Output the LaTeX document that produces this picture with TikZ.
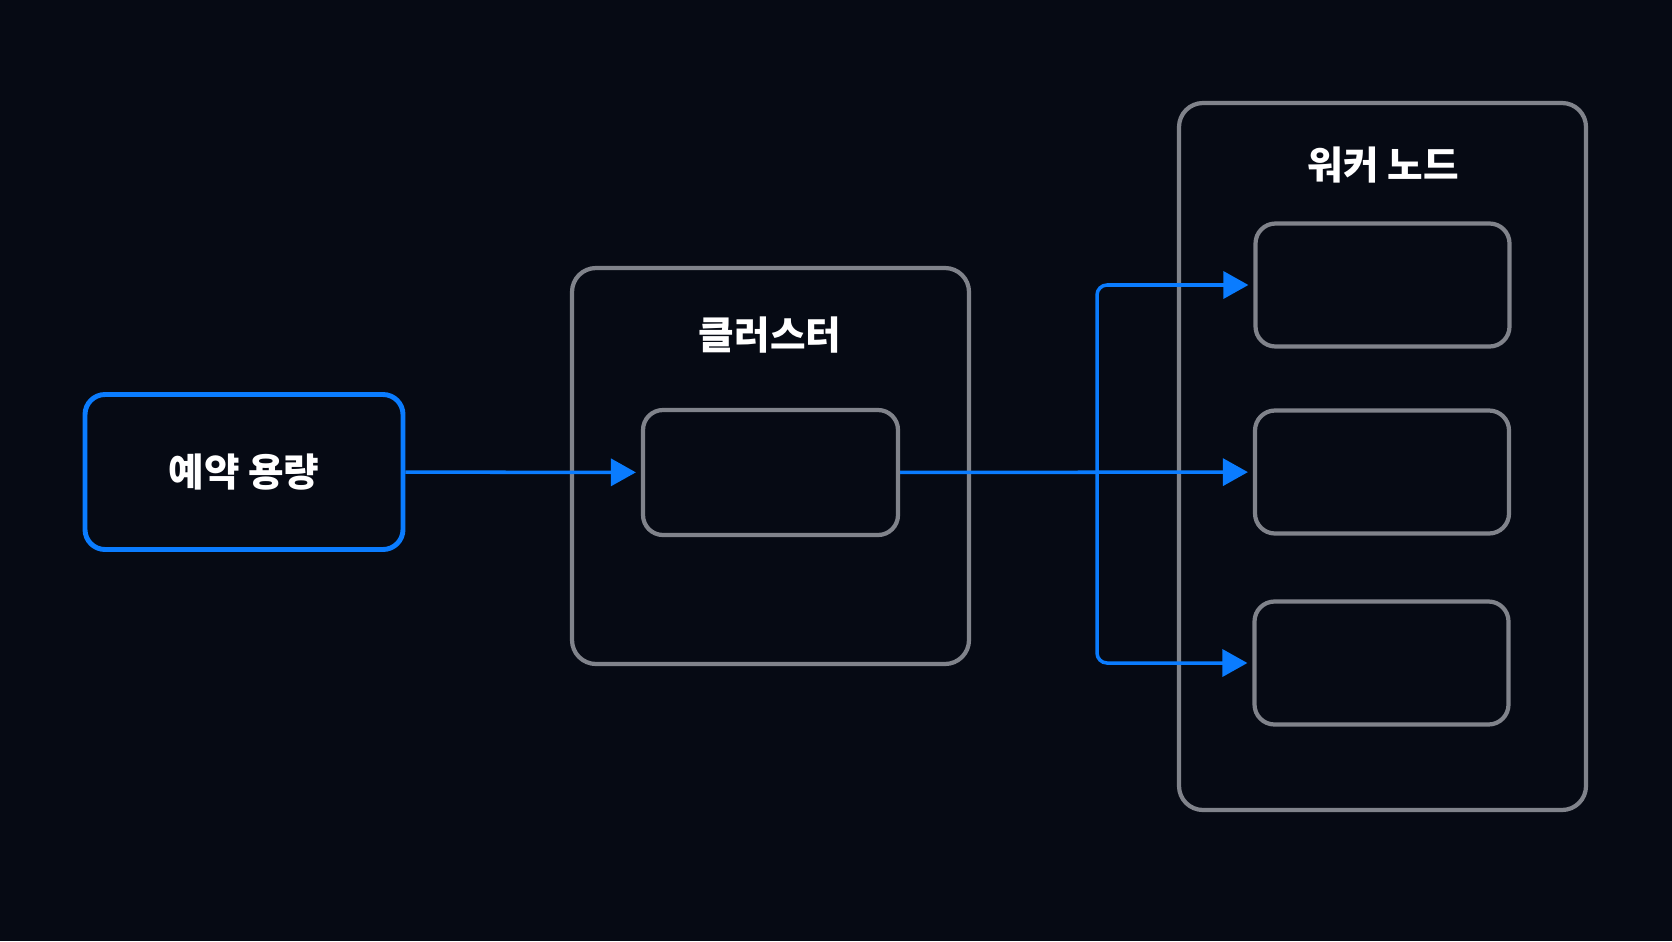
\documentclass[tikz,border=0pt]{standalone}
\usepackage{fontspec}
\newfontfamily\kr{Noto Sans CJK KR}
\usetikzlibrary{arrows.meta, positioning, calc}
\definecolor{bgdark}{HTML}{060A14}
\definecolor{linegray}{HTML}{80838B}
\definecolor{accentblue}{HTML}{0A7CFF}

\begin{document}
\begin{tikzpicture}[
  outerbox/.style={draw=linegray, rounded corners=0.24cm, line width=1.2pt, fill=bgdark},
  innerbox/.style={draw=linegray, rounded corners=0.2cm, line width=1.2pt, fill=bgdark,
    minimum width=2.54cm, minimum height=1.23cm},
  srcbox/.style={draw=accentblue, rounded corners=0.2cm, line width=1.4pt, fill=bgdark,
    minimum width=3.18cm, minimum height=1.55cm, text=white, font=\kr\bfseries\fontsize{11}{13}\selectfont},
  title/.style={text=white, font=\kr\bfseries\fontsize{11}{13}\selectfont},
  arr/.style={-{Triangle[length=0.25cm, width=0.27cm]}, draw=accentblue,
    line width=1pt, shorten >=0.05cm}
]
  %% Background and frame
  \fill[bgdark] (0,0) rectangle (16.72,-9.41);
  \useasboundingbox (0,0) rectangle (16.72,-9.41);

  %% Source: reserved capacity
  \node[srcbox] (resv) at (2.44,-4.72) {예약 용량};

  %% Cluster
  \node[outerbox, minimum width=3.97cm, minimum height=3.96cm] (cluster) at (7.705,-4.66) {};
  \node[title] (clustertitle) at (7.70,-3.35) {클러스터};
  \node[innerbox, minimum width=2.55cm, minimum height=1.25cm] (cpool) at (7.705,-4.725) {};

  %% Worker nodes
  \node[outerbox, minimum width=4.07cm, minimum height=7.07cm] (worker) at (13.825,-4.565) {};
  \node[title] (workertitle) at (13.83,-1.65) {워커 노드};
  \node[innerbox] (w1) at (13.825,-2.85) {};
  \node[innerbox] (w2) at (13.82,-4.72) {};
  \node[innerbox] (w3) at (13.815,-6.63) {};

  %% Connectors
  \draw[arr] (resv) -- (cpool);
  \draw[arr] (cpool) -- (w2);
  \coordinate (split) at (10.97,-4.72);
  \draw[arr, rounded corners=0.1cm] (split) |- (w1.west);
  \draw[arr, rounded corners=0.1cm] (split) |- (w3.west);

\end{tikzpicture}
\end{document}
